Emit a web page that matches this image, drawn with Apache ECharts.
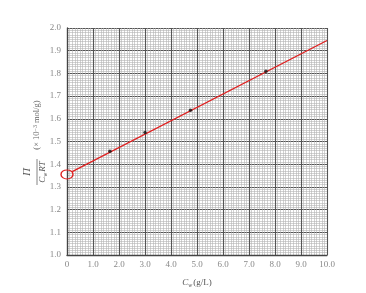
<!DOCTYPE html>
<html><head><meta charset="utf-8">
<script src="https://cdn.jsdelivr.net/npm/echarts@6/dist/echarts.min.js"></script>
<style>html,body{margin:0;padding:0;background:#fff}#c{width:366px;height:293px}</style>
</head><body><div id="c"></div>
<script>
const xTicks = [0, 1, 2, 3, 4, 5, 6, 7, 8, 9, 10];
const yTicks = [1.0, 1.1, 1.2, 1.3, 1.4, 1.5, 1.6, 1.7, 1.8, 1.9, 2.0];
const concentration = [1.65, 3.0, 4.75, 7.65];
const reducedOsmotic = [1.457, 1.54, 1.638, 1.81];
const fitLine = [[0.2, 1.367], [10, 1.945]];
const intercept = [[0, 1.355]];

const serif = '"Liberation Serif","DejaVu Serif",serif';
const chart = echarts.init(document.getElementById('c'));
chart.setOption({
  animation: false,
  grid: {left: 67, right: 39, top: 28, bottom: 36},
  xAxis: {
    type: 'value', min: xTicks[0], max: xTicks[xTicks.length-1], interval: 1,
    axisLine: {show: true, lineStyle: {color: '#444', width: 1.3}},
    axisTick: {show: false},
    axisLabel: {color: '#888', fontFamily: serif, fontSize: 9, margin: 5,
      formatter: v => v === 0 ? '0' : v.toFixed(1)},
    splitLine: {show: true, lineStyle: {color: '#555', width: 1.1}},
    minorTick: {show: false, splitNumber: 10},
    minorSplitLine: {show: true, lineStyle: {color: '#b4b4b4', width: 0.6}},
    name: '{i|C}{s|w}{n|(g/L)}', nameLocation: 'middle', nameGap: 22,
    nameTextStyle: {rich: {
      i: {fontFamily: serif, fontStyle: 'italic', fontSize: 9, color: '#555'},
      s: {fontFamily: serif, fontStyle: 'italic', fontSize: 6, color: '#555', verticalAlign: 'bottom', padding: [5,1,0,0]},
      n: {fontFamily: serif, fontSize: 9, color: '#555'}
    }}
  },
  yAxis: {
    type: 'value', min: yTicks[0], max: yTicks[yTicks.length-1], interval: 0.1,
    axisLine: {show: true, lineStyle: {color: '#444', width: 1.3}},
    axisTick: {show: false},
    axisLabel: {color: '#888', fontFamily: serif, fontSize: 9, margin: 6,
      formatter: v => v.toFixed(1)},
    splitLine: {show: true, lineStyle: {color: '#555', width: 1.1}},
    minorTick: {show: false, splitNumber: 10},
    minorSplitLine: {show: true, lineStyle: {color: '#b4b4b4', width: 0.6}}
  },
  series: [
    {type: 'line', data: fitLine, symbol: 'none', lineStyle: {color: '#e02020', width: 1.3}, z: 3},
    {type: 'scatter', data: concentration.map((x, i) => [x, reducedOsmotic[i]]), symbol: 'circle', symbolSize: 3.5,
      itemStyle: {color: '#111'}, z: 4},
    {type: 'scatter', data: intercept, symbol: 'circle', symbolSize: [12, 9], clip: false,
      itemStyle: {color: 'rgba(255,255,255,0)', borderColor: '#e02020', borderWidth: 1.2, opacity: 1}, z: 5}
  ],
  graphic: [{
    type: 'group', x: 37, y: 140, rotation: Math.PI / 2,
    children: [
      {type: 'text', x: -32, y: -4, style: {text: 'Π', font: 'italic 11px ' + serif, fill: '#555', align: 'center', verticalAlign: 'bottom'}},
      {type: 'line', shape: {x1: -45, y1: 0, x2: -19, y2: 0}, style: {stroke: '#666', lineWidth: 0.8}},
      {type: 'text', x: -32, y: 1, style: {
        text: '{i|C}{s|w}{i|RT}', align: 'center', verticalAlign: 'top',
        rich: {
          i: {fontFamily: serif, fontStyle: 'italic', fontSize: 9, fill: '#555'},
          s: {fontFamily: serif, fontStyle: 'italic', fontSize: 6, fill: '#555', verticalAlign: 'bottom', padding: [4,1,0,0]}
        }}},
      {type: 'text', x: 15, y: 0, style: {
        text: '{n|(× 10}{p|−3}{n|mol/g)}', align: 'center', verticalAlign: 'middle',
        rich: {
          n: {fontFamily: serif, fontSize: 8.5, fill: '#666'},
          p: {fontFamily: serif, fontSize: 6, fill: '#666', verticalAlign: 'top', padding: [0,2,4,0]}
        }}}
    ]
  }]
});
</script></body></html>
